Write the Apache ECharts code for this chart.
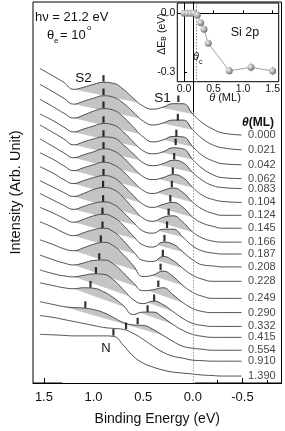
<!DOCTYPE html>
<html><head><meta charset="utf-8">
<script src="https://cdn.jsdelivr.net/npm/echarts@6/dist/echarts.min.js"></script>
<style>html,body{margin:0;padding:0;background:#fff}#c{width:285px;height:431px}</style>
</head><body><div id="c"></div>
<script>
// Binding energy grid (eV) shared by all spectra
const energy = [1.54, 1.40, 1.30, 1.20, 1.10, 1.00, 0.90, 0.80, 0.70, 0.60, 0.50, 0.40, 0.30, 0.20, 0.10, 0.00, -0.10, -0.20, -0.30, -0.49];
// Coverage labels (ML)
const coverage = ['0.000','0.021','0.042','0.062','0.083','0.104','0.124','0.145','0.166','0.187','0.208','0.228','0.249','0.290','0.332','0.415','0.554','0.910','1.390'];
// Vertical offset (baseline) of each spectrum, arb. units
const offsets = [250,235,220,206,196,182,169,156,142,130,117,102.5,85.3,71,57,46,33,22,7];
// Intensity above the baseline
const s000 = [67,59,53,46,48,51,53,52,46,37,29,26,28,31.5,31.5,21,12,6,2,0];
const s021 = [66,58,52,46,49,52,54.5,53,47,38,29,25,27,30,30,20,11,5,2,0];
const s042 = [66,58,52,47,50,54,56.5,55,48,38,28,23,25,28.5,28,18,9,4,1,0];
const s062 = [65,58,52,47,50,53,55.5,54,47,37,28,25,27,31,30,19,10,4,1,0];
const s083 = [64,56,50,44,47,50,52,51,44,35,26,23,25,28.5,26,16,8,3,1,0];
const s104 = [64,56,50,45,48,51,54,52,45,35,26,23,25,28,25,15,7,3,1,0];
const s124 = [63,56,50,45,48,51,53.5,51,44,34,25,22,25,27.5,23,13,6,2,0,0];
const s145 = [62,55,49,45,48,51,53,51,43,33,24,21,24,26,21,11,5,2,0,0];
const s166 = [62,55,50,46,49,53,55,53,45,34,24,21,25,26.5,20,10,4,1,0,0];
const s187 = [61,54,49,45,48,51,52.5,50,42,32,23,21,25,25,17,8,3,1,0,0];
const s208 = [60,54,49,45,48,51.5,53,50,42,31,22,20,25,23,15,7,2,1,0,0];
const s228 = [60,54,49,46,49,52,53.5,50,41,30,21,20,25,21,13,6,2,0,0,0];
const s249 = [59,54,50,48,51,54.5,56.5,53,44,33,22,23.5,27.5,22,13,6,2,0,0,0];
const s290 = [58,53,50,48,50,52.5,53,49,40,30,22,23,25,18,10,4,1,0,0,0];
const s332 = [57,53,51,50,51.5,53,52.5,47,37,27,23,25.5,22,15,8,3,1,0,0,0];
const s415 = [55,52,50,49,50,49.5,46,40,32,23,25.5,25.5,20,13,7,3,1,0,0,0];
const s554 = [49,46,44,43,42.5,41,38,33,28,25.5,25,21,15,9,4,2,1,0,0,0];
const s910 = [46,44,42,40,38,36,34,33,32,28,22,15,9,5,3,1,0.5,0,0,0];
const s1390 = [42,41.5,41,40.5,40.5,40.5,40.5,40,31,20,13,9,6,4,3,2,1,0.5,0,0];
const spectra = [s000,s021,s042,s062,s083,s104,s124,s145,s166,s187,s208,s228,s249,s290,s332,s415,s554,s910,s1390];
// Shaded component region: chord between these two energies (null = no shading)
const shadeFrom = [1.2,1.2,1.2,1.2,1.2,1.2,1.2,1.2,1.2,1.2,1.2,1.2,1.2,1.2,1.2,1.2,1.3,null,null];
const shadeTo   = [0.0,0.0,0.0,0.0,0.0,0.0,0.0,0.0,0.0,0.1,0.1,0.1,0.1,0.1,0.2,0.2,0.3,null,null];
// Peak position marks [E, intensity]
const markS2 = [[0.900,307],[0.900,293.5],[0.900,280.5],[0.900,265.5],[0.900,251.5],[0.900,239.5],[0.900,226],[0.900,212.5],[0.904,200.5],[0.904,186],[0.910,173.5],[0.910,159.5],[0.927,145.5],[0.943,127.5],[0.976,113.5],[1.031,99.5],[1.083,79]];
const markS1 = [[0.146,286.5],[0.151,268],[0.166,252],[0.173,243],[0.188,228.5],[0.202,214],[0.212,200.5],[0.227,186],[0.244,172.5],[0.260,159.5],[0.286,146],[0.302,131],[0.325,117],[0.348,100],[0.390,86],[0.456,75],[0.556,62.5],[0.673,57.5],[0.800,51]];
// Inset: Si 2p shift vs coverage
const insetTheta = [0.0, 0.056, 0.113, 0.169, 0.225, 0.283, 0.338, 0.411, 0.766, 1.133, 1.5];
const insetShift = [0.0, 0.0, 0.0, 0.0, -0.009, -0.048, -0.082, -0.154, -0.295, -0.277, -0.296];
const insetErr   = [0.005, 0.005, 0.005, 0.005, 0.008, 0.008, 0.008, 0.01, 0.02, 0.025, 0.025];
const thetaC = 0.21;

const FONT = 'Liberation Sans, Arial, sans-serif';
const series = [];
const level = spectra.map((s, i) => s.map(v => v + offsets[i]));
level.forEach((s, i) => {
  if (shadeFrom[i] === null) return;
  const a = energy.indexOf(shadeFrom[i]), b = energy.indexOf(shadeTo[i]);
  const seg = [];
  for (let k = a; k <= b; k++) seg.push([energy[k], s[k]]);
  series.push({type:'line', xAxisIndex:0, yAxisIndex:0, data:seg, smooth:true, symbol:'none', silent:true,
    lineStyle:{width:0}, areaStyle:{color:'#c4c4c4', opacity:1, origin:'start'}, z:2});
  // chord (slightly extended so the white cover hides the shaded edges)
  const ea = energy[a], eb = energy[b], ya = s[a], yb = s[b];
  const slope = (yb - ya) / (eb - ea), d = 0.015;
  series.push({type:'line', xAxisIndex:0, yAxisIndex:0,
    data:[[ea + d, ya + slope * d],[eb - d, yb - slope * d]], smooth:false, symbol:'none', silent:true,
    lineStyle:{width:0}, areaStyle:{color:'#ffffff', opacity:1, origin:'start'}, z:2});
});
level.forEach((s, i) => {
  series.push({type:'line', xAxisIndex:0, yAxisIndex:0, data:energy.map((e,k)=>[e, s[k]]), smooth:true, symbol:'none', silent:true,
    lineStyle:{color:'#3c3c3c', width:0.9}, z:3});
});
series.push({type:'scatter', xAxisIndex:0, yAxisIndex:0, data:markS2.concat(markS1), symbol:'rect', symbolSize:[2.2,6.5],
  itemStyle:{color:'#000'}, z:4, silent:true});
series.push({type:'scatter', xAxisIndex:0, yAxisIndex:0, symbolSize:0.1, itemStyle:{color:'rgba(0,0,0,0)'}, z:4, silent:true,
  data: coverage.map((c,i)=>({name:c, value:[-0.556, offsets[i]]})),
  label:{show:true, position:'right', distance:0, formatter:'{b}', fontSize:11, color:'#111', fontFamily:FONT},
  markLine:{silent:true, symbol:'none', label:{show:false}, lineStyle:{color:'#999', type:[1.5,1.5], width:1},
    data:[[{coord:[0,273]},{coord:[0,0]}]]}
});
// inset
series.push({type:'line', xAxisIndex:2, yAxisIndex:1, data:insetTheta.map((t,k)=>[t, insetShift[k]]), symbol:'circle', symbolSize:7,
  lineStyle:{color:'#8a8a8a', width:0.8},
  itemStyle:{color:{type:'radial', x:0.35, y:0.35, r:0.7, colorStops:[{offset:0,color:'#f4f4f4'},{offset:1,color:'#6f6f6f'}]}, borderWidth:0},
  z:6, silent:true,
  markLine:{silent:true, symbol:'none', label:{show:false}, lineStyle:{color:'#888', type:[1.5,1.5], width:1},
    data:[[{coord:[thetaC,0.053]},{coord:[thetaC,-0.351]}]]}
});
series.push({type:'custom', xAxisIndex:2, yAxisIndex:1, z:5, silent:true,
  data: insetTheta.map((t,k)=>[t, insetShift[k], insetErr[k]]),
  renderItem:(params, api)=>{
    const p1 = api.coord([api.value(0), api.value(1)+api.value(2)]);
    const p2 = api.coord([api.value(0), api.value(1)-api.value(2)]);
    return {type:'line', shape:{x1:p1[0],y1:p1[1],x2:p2[0],y2:p2[1]}, style:{stroke:'#aaa', lineWidth:0.8}};
  }
});

const chart = echarts.init(document.getElementById('c'), null, {renderer:'canvas'});
chart.setOption({
  animation:false,
  textStyle:{fontFamily:FONT},
  grid:[
    {left:25, right:3.5, top:2, bottom:45, show:true, borderColor:'#000', borderWidth:1},
    {left:177.3, right:6.3, top:3, bottom:349.3, show:true, borderColor:'#000', borderWidth:1}
  ],
  xAxis:[
    {type:'value', gridIndex:0, min:-0.893, max:1.61, inverse:true,
      axisLine:{lineStyle:{color:'#000', width:1}},
      axisTick:{show:true, inside:true, length:5, customValues:[1.5,1.0,0.5,0.0,-0.5], lineStyle:{color:'#000'}},
      axisLabel:{show:true, customValues:[1.5,1.0,0.5,0.0,-0.5], formatter:v=>v.toFixed(1), fontSize:13, color:'#111', margin:8, fontFamily:FONT},
      splitLine:{show:false},
      name:'Binding Energy (eV)', nameLocation:'middle', nameGap:29, nameTextStyle:{fontSize:14, color:'#111', fontFamily:FONT}},
    {type:'value', gridIndex:0, min:-0.893, max:1.61, inverse:true, position:'bottom',
      axisLine:{show:false}, axisLabel:{show:false}, splitLine:{show:false},
      axisTick:{show:true, inside:true, length:3, customValues:[1.25,0.75,0.25,-0.25,-0.75], lineStyle:{color:'#000'}}},
    {type:'value', gridIndex:1, min:-0.113, max:1.602,
      axisLine:{lineStyle:{color:'#000'}},
      axisTick:{show:true, inside:true, length:3, customValues:[0,0.5,1.0,1.5], lineStyle:{color:'#000'}},
      axisLabel:{show:true, customValues:[0,0.5,1.0,1.5], formatter:v=>v.toFixed(1), fontSize:10.5, color:'#111', margin:2, fontFamily:FONT},
      splitLine:{show:false}}
  ],
  yAxis:[
    {type:'value', gridIndex:0, min:0, max:384,
      axisLine:{show:true, lineStyle:{color:'#000'}}, axisTick:{show:false}, axisLabel:{show:false}, splitLine:{show:false},
      name:'Intensity (Arb. Unit)', nameLocation:'middle', nameGap:10, nameTextStyle:{fontSize:14.5, color:'#111', fontFamily:FONT}},
    {type:'value', gridIndex:1, min:-0.351, max:0.053,
      axisLine:{show:true, lineStyle:{color:'#000'}},
      axisTick:{show:true, inside:true, length:3, customValues:[0,-0.3], lineStyle:{color:'#000'}},
      axisLabel:{show:true, customValues:[0,-0.3], formatter:v=>v.toFixed(1), fontSize:10.5, color:'#111', margin:2, fontFamily:FONT},
      splitLine:{show:false}}
  ],
  graphic:[
    {type:'text', x:35, y:17, z:100, style:{text:'h\u03bd = 21.2 eV', fontSize:13, fill:'#111', verticalAlign:'middle', fontFamily:FONT}},
    {type:'text', x:47, y:35, z:100, style:{text:'\u03b8', fontSize:13, fill:'#111', verticalAlign:'middle', fontFamily:FONT}},
    {type:'text', x:54, y:41, z:100, style:{text:'e', fontSize:8, fill:'#111', verticalAlign:'middle', fontFamily:FONT}},
    {type:'text', x:60, y:35, z:100, style:{text:'= 10', fontSize:13, fill:'#111', verticalAlign:'middle', fontFamily:FONT}},
    {type:'text', x:87, y:28, z:100, style:{text:'o', fontSize:8, fill:'#111', verticalAlign:'middle', fontFamily:FONT}},
    {type:'text', x:83.5, y:78, z:100, style:{text:'S2', fontSize:13.5, fill:'#111', align:'center', verticalAlign:'middle', fontFamily:FONT}},
    {type:'text', x:162.5, y:98, z:100, style:{text:'S1', fontSize:13.5, fill:'#111', align:'center', verticalAlign:'middle', fontFamily:FONT}},
    {type:'text', x:106, y:348.5, z:100, style:{text:'N', fontSize:13, fill:'#111', align:'center', verticalAlign:'middle', fontFamily:FONT}},
    {type:'text', x:258, y:123, z:100, style:{text:'{t|\u03b8}{m|(ML)}', align:'center', verticalAlign:'middle',
      rich:{t:{fontSize:12, fontWeight:'bold', fontStyle:'italic', fill:'#111', fontFamily:FONT}, m:{fontSize:12, fontWeight:'bold', fill:'#111', fontFamily:FONT}}}},
    {type:'text', x:245, y:33, z:100, style:{text:'Si 2p', fontSize:12.5, fill:'#111', align:'center', verticalAlign:'middle', fontFamily:FONT}},
    {type:'text', x:225, y:97.5, z:100, style:{text:'{t|\u03b8}{m| (ML)}', align:'center', verticalAlign:'middle',
      rich:{t:{fontSize:11, fontStyle:'italic', fill:'#111', fontFamily:FONT}, m:{fontSize:11, fill:'#111', fontFamily:FONT}}}},
    {type:'text', x:193, y:57, z:100, style:{text:'\u03b8', fontSize:11, fontStyle:'italic', fill:'#111', verticalAlign:'middle', fontFamily:FONT}},
    {type:'text', x:199, y:62, z:100, style:{text:'c', fontSize:7, fill:'#111', verticalAlign:'middle', fontFamily:FONT}},
    {type:'text', x:162, y:34, z:100, rotation:Math.PI/2, style:{text:'{a|\u0394E}{b|B}{a| (eV)}', align:'center', verticalAlign:'middle',
      rich:{a:{fontSize:10.5, lineHeight:12, fill:'#111', fontFamily:FONT}, b:{fontSize:7, lineHeight:7, verticalAlign:'bottom', fill:'#111', fontFamily:FONT}}}}
  ],
  series: series
});
</script></body></html>
